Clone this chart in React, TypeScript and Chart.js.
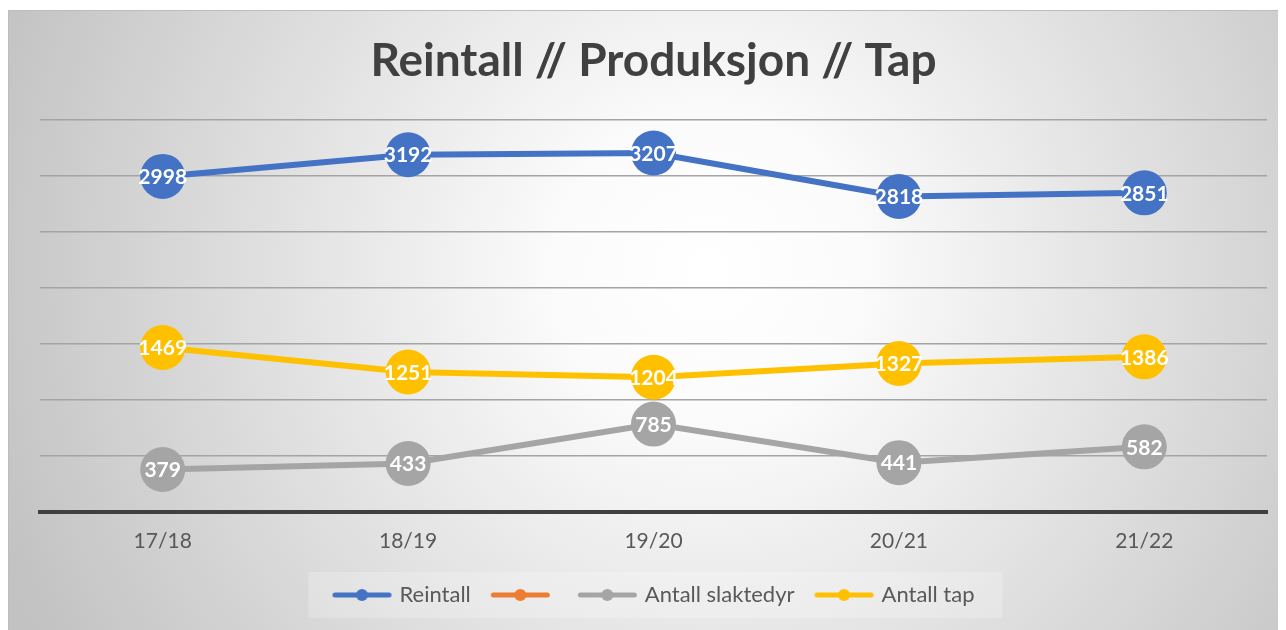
import React, { useEffect, useRef } from "react";
import { Chart, registerables } from "chart.js";

Chart.register(...registerables);

const TITLE = "Reintall // Produksjon // Tap";
const categories = ["17/18", "18/19", "19/20", "20/21", "21/22"];
const reintall = [2998, 3192, 3207, 2818, 2851];
const tomSerie: (number | null)[] = [null, null, null, null, null];
const slaktedyr = [379, 433, 785, 441, 582];
const tap = [1469, 1251, 1204, 1327, 1386];
const seriesNames = ["Reintall", "", "Antall slaktedyr", "Antall tap"];
const seriesColors = ["#4472C4", "#ED7D31", "#A5A5A5", "#FFC000"];
const yMin = 0;
const yMax = 3500;
const yStep = 500;

const FONT = "Lato, 'Open Sans', sans-serif";
const LEG_FONT = 22;
const LEG_PAD = 20;

function legendImage(color: string): HTMLCanvasElement {
  // image is centred on the 56px legend box; it extends to just before the text
  const c = document.createElement("canvas");
  c.width = 68;
  c.height = 14;
  const g = c.getContext("2d")!;
  g.strokeStyle = color;
  g.lineWidth = 5;
  g.lineCap = "round";
  g.beginPath();
  g.moveTo(8.5, 7);
  g.lineTo(62.5, 7);
  g.stroke();
  g.fillStyle = color;
  g.beginPath();
  g.arc(35.5, 7, 6, 0, Math.PI * 2);
  g.fill();
  return c;
}

const backgroundPlugin = {
  id: "bgPlugin",
  beforeDraw(chart: any) {
    const { ctx, width, height } = chart;
    ctx.save();
    const grad = ctx.createRadialGradient(700, 260, 0, 700, 260, 760);
    grad.addColorStop(0, "#ffffff");
    grad.addColorStop(0.2, "#fbfbfb");
    grad.addColorStop(1, "#c2c2c2");
    ctx.fillStyle = grad;
    ctx.fillRect(0, 0, width, height);
    ctx.strokeStyle = "#bdbdbd";
    ctx.lineWidth = 1;
    ctx.strokeRect(0.5, 0.5, width - 1, height - 1);
    const lg = chart.legend;
    if (lg && lg.lineWidths) {
      const x0 = (lg.left + LEG_PAD + lg.right - lg.lineWidths[0]) / 2;
      const left = x0 - 24;
      const right = x0 + lg.lineWidths[0] - LEG_PAD + 28;
      const cy = lg.top + LEG_PAD + LEG_FONT / 2;
      ctx.fillStyle = "rgba(255,255,255,0.22)";
      ctx.fillRect(left, cy - 23, right - left, 46);
    }
    ctx.restore();
  },
};

const dataLabelPlugin = {
  id: "dataLabels",
  afterDatasetsDraw(chart: any) {
    const { ctx } = chart;
    ctx.save();
    ctx.font = `bold 21px ${FONT}`;
    ctx.fillStyle = "#ffffff";
    ctx.textAlign = "center";
    ctx.textBaseline = "middle";
    chart.data.datasets.forEach((ds: any, i: number) => {
      const meta = chart.getDatasetMeta(i);
      meta.data.forEach((pt: any, j: number) => {
        const v = ds.data[j];
        if (v === null || v === undefined) return;
        ctx.fillText(String(v), pt.x, pt.y + 1);
      });
    });
    ctx.restore();
  },
};

export default function App() {
  const ref = useRef<HTMLCanvasElement | null>(null);
  useEffect(() => {
    document.body.style.overflow = "hidden";
    const seriesData = [reintall, tomSerie, slaktedyr, tap];
    const chart = new Chart(ref.current!, {
      type: "line",
      data: {
        labels: categories,
        datasets: seriesData.map((d, i) => ({
          label: seriesNames[i],
          data: d,
          borderColor: seriesColors[i],
          backgroundColor: seriesColors[i],
          pointBackgroundColor: seriesColors[i],
          pointBorderWidth: 0,
          pointRadius: 22.5,
          pointHoverRadius: 22.5,
          borderWidth: 6,
          tension: 0,
          pointStyle: "circle",
        })),
      },
      options: {
        animation: false,
        responsive: false,
        events: [],
        layout: { padding: { left: 32, right: 32, top: 0, bottom: 19 } },
        plugins: {
          title: {
            display: true,
            text: TITLE,
            color: "#404040",
            font: { family: FONT, size: 46, weight: "bold", lineHeight: 1.2 },
            padding: { top: 24, bottom: 31 },
          },
          legend: {
            display: true,
            position: "bottom",
            labels: {
              color: "#595959",
              font: { family: FONT, size: LEG_FONT },
              usePointStyle: true,
              pointStyleWidth: 56,
              boxHeight: 14,
              padding: LEG_PAD,
              generateLabels: () =>
                seriesNames.map((n, i) => ({
                  text: n,
                  pointStyle: legendImage(seriesColors[i]),
                  fillStyle: seriesColors[i],
                  strokeStyle: seriesColors[i],
                  lineWidth: 0,
                  hidden: false,
                  datasetIndex: i,
                  fontColor: "#595959",
                })),
            },
          },
          tooltip: { enabled: false },
        },
        scales: {
          x: {
            type: "category",
            offset: true,
            grid: { display: true, color: "rgba(0,0,0,0)", drawTicks: false },
            border: { display: true, color: "#404040", width: 4 },
            ticks: {
              color: "#595959",
              font: { family: FONT, size: 21 },
              padding: 17,
            },
            afterFit: (s: any) => {
              s.height = 52;
            },
          },
          y: {
            min: yMin,
            max: yMax,
            ticks: { display: false, stepSize: yStep },
            grid: { color: "#a4a4a4", lineWidth: 1.6, drawTicks: false },
            border: { display: false },
            afterFit: (s: any) => {
              s.width = 0;
            },
          },
        },
      },
      plugins: [backgroundPlugin, dataLabelPlugin],
    });
    return () => chart.destroy();
  }, []);
  return (
    <div style={{ marginTop: 2, width: 1291, height: 625 }}>
      <canvas ref={ref} width={1291} height={625} style={{ display: "block" }} />
    </div>
  );
}
